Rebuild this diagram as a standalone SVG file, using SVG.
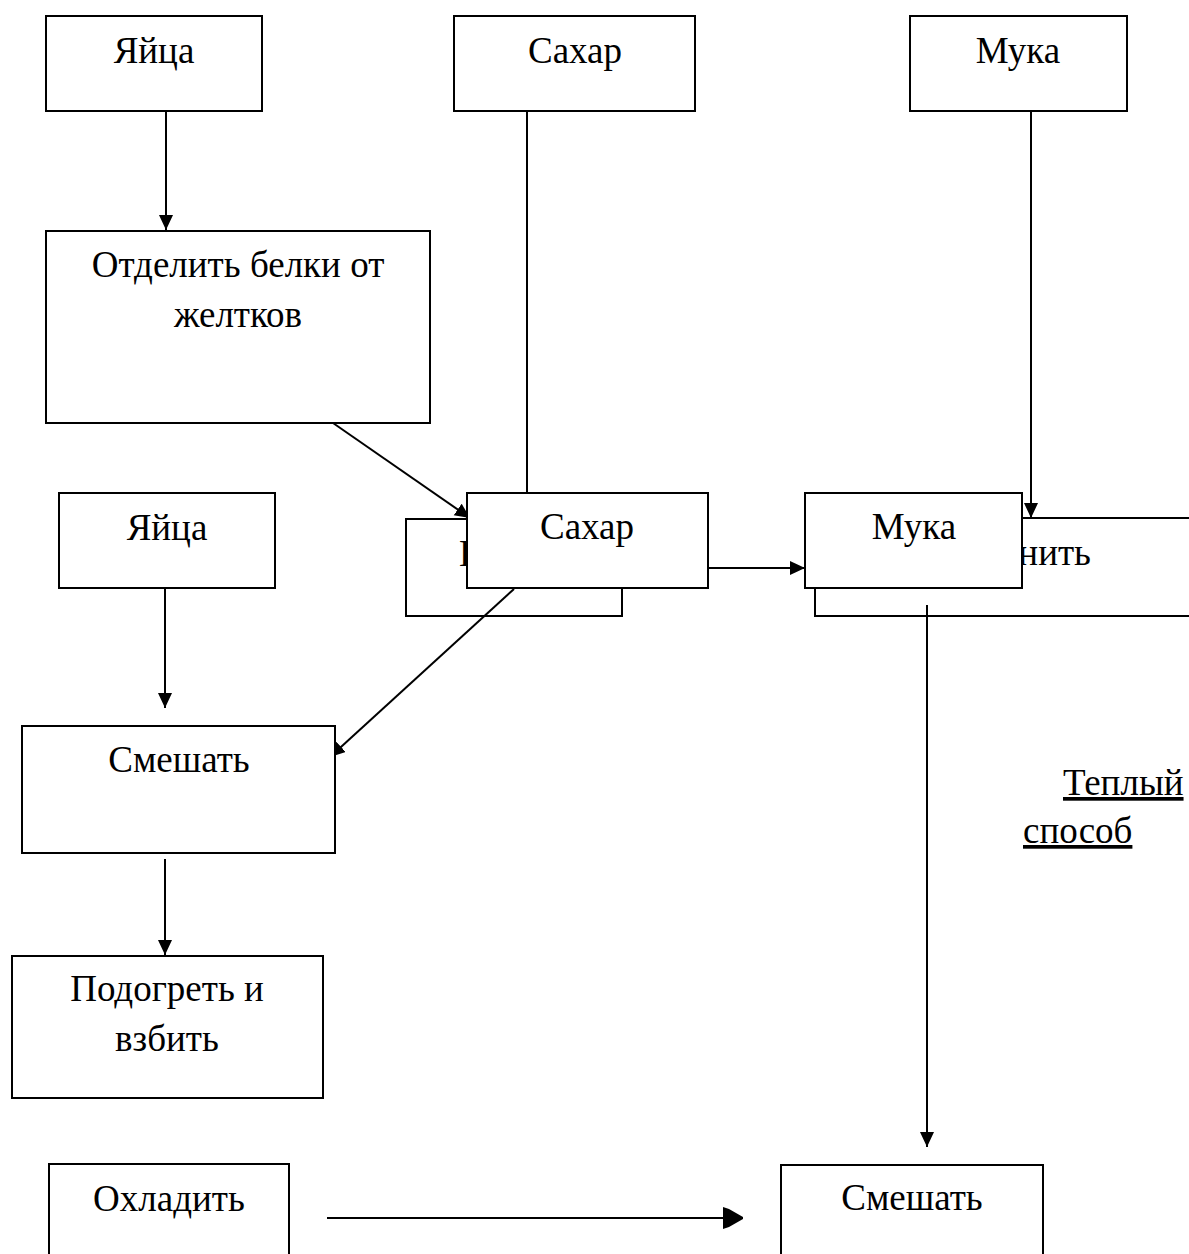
<svg xmlns="http://www.w3.org/2000/svg" width="1189" height="1254" viewBox="0 0 1189 1254">
<style>
  .box { fill: #fff; stroke: #000; stroke-width: 2; }
  .t { font-family: "Liberation Serif", "Times New Roman", serif; font-size: 37px; fill: #000; }
  .c { text-anchor: middle; }
  .ln { stroke: #000; stroke-width: 2; fill: none; }
  .u { text-decoration: underline; }
</style>
<defs>
  <marker id="arr" markerUnits="userSpaceOnUse" markerWidth="16" markerHeight="16" refX="15" refY="7" orient="auto">
    <path d="M0,0 L15,7 L0,14 Z" fill="#000"/>
  </marker>
  <marker id="arr2" markerUnits="userSpaceOnUse" markerWidth="22" markerHeight="24" refX="20" refY="11" orient="auto">
    <path d="M0,0 L6,2 L20,10 L20,12 L6,20 L0,22 Z" fill="#000"/>
  </marker>
</defs>
<rect width="1189" height="1254" fill="#fff"/>

<!-- partly hidden (background) boxes -->
<g id="node-hidden-left">
  <rect class="box" x="406" y="519" width="216" height="97"/>
  <text class="t" x="459" y="566">В</text>
</g>
<g id="node-hidden-right">
  <rect class="box" x="815" y="518" width="400" height="98"/>
  <text class="t" x="1091" y="565" text-anchor="end">нить</text>
</g>

<g id="connectors">
  <line class="ln" x1="166" y1="111" x2="166" y2="230" marker-end="url(#arr)"/>
  <line class="ln" x1="527" y1="111" x2="527" y2="493"/>
  <line class="ln" x1="1031" y1="111" x2="1031" y2="518" marker-end="url(#arr)"/>
  <line class="ln" x1="333" y1="423" x2="470" y2="518" marker-end="url(#arr)"/>
  <line class="ln" x1="708" y1="568" x2="805" y2="568" marker-end="url(#arr)"/>
  <line class="ln" x1="514" y1="589" x2="330" y2="757" marker-end="url(#arr)"/>
  <line class="ln" x1="165" y1="589" x2="165" y2="708" marker-end="url(#arr)"/>
  <line class="ln" x1="927" y1="605" x2="927" y2="1147" marker-end="url(#arr)"/>
  <line class="ln" x1="165" y1="859" x2="165" y2="955" marker-end="url(#arr)"/>
  <line class="ln" x1="327" y1="1218" x2="743" y2="1218" marker-end="url(#arr2)"/>
</g>

<g id="node-yaitsa1">
  <rect class="box" x="46" y="16" width="216" height="95"/>
  <text class="t c" x="154" y="63">Яйца</text>
</g>
<g id="node-sahar1">
  <rect class="box" x="454" y="16" width="241" height="95"/>
  <text class="t c" x="575" y="63">Сахар</text>
</g>
<g id="node-muka1">
  <rect class="box" x="910" y="16" width="217" height="95"/>
  <text class="t c" x="1018" y="63">Мука</text>
</g>
<g id="node-otdelit">
  <rect class="box" x="46" y="231" width="384" height="192"/>
  <text class="t c" x="238" y="277">Отделить белки от</text>
  <text class="t c" x="238" y="327">желтков</text>
</g>
<g id="node-yaitsa2">
  <rect class="box" x="59" y="493" width="216" height="95"/>
  <text class="t c" x="167" y="540">Яйца</text>
</g>
<g id="node-sahar2">
  <rect class="box" x="467" y="493" width="241" height="95"/>
  <text class="t c" x="587" y="539">Сахар</text>
</g>
<g id="node-muka2">
  <rect class="box" x="805" y="493" width="217" height="95"/>
  <text class="t c" x="914" y="539">Мука</text>
</g>
<g id="node-smeshat1">
  <rect class="box" x="22" y="726" width="313" height="127"/>
  <text class="t c" x="179" y="772">Смешать</text>
</g>
<g id="label-teply">
  <text class="t u" x="1063" y="795">Теплый</text>
  <text class="t u" x="1023" y="843">способ</text>
</g>
<g id="node-podogret">
  <rect class="box" x="12" y="956" width="311" height="142"/>
  <text class="t c" x="167" y="1001">Подогреть и</text>
  <text class="t c" x="167" y="1051">взбить</text>
</g>
<g id="node-ohladit">
  <rect class="box" x="49" y="1164" width="240" height="120"/>
  <text class="t c" x="169" y="1211">Охладить</text>
</g>
<g id="node-smeshat2">
  <rect class="box" x="781" y="1165" width="262" height="120"/>
  <text class="t c" x="912" y="1210">Смешать</text>
</g>
</svg>
